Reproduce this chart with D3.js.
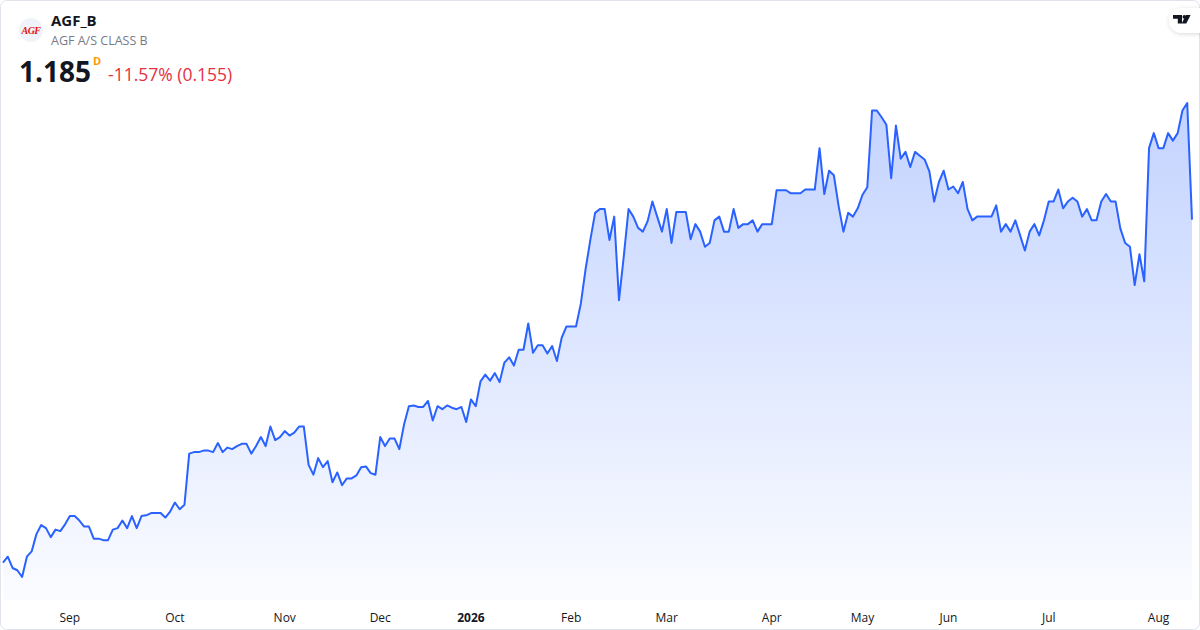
<!DOCTYPE html>
<html>
<head>
<meta charset="utf-8">
<script src="https://cdn.jsdelivr.net/npm/d3@7"></script>
<style>
  html, body { margin: 0; padding: 0; background: #fff; }
  svg { display: block; font-family: "Open Sans", "Noto Sans", sans-serif; }
</style>
</head>
<body>
<script>
// AGF_B daily closes, Aug 12 2025 .. Aug 12 2026 (Nasdaq Copenhagen trading days)
var firstDay = "2025-08-12";
var lastDay = "2026-08-12";
var holidays = ["2025-12-24", "2025-12-25", "2025-12-26", "2025-12-31", "2026-01-01",
  "2026-04-02", "2026-04-03", "2026-04-06", "2026-05-14", "2026-05-15", "2026-05-25", "2026-06-05"];

var closes = [
  0.729, 0.737, 0.722, 0.719, 0.710, 0.737, 0.744, 0.767, 0.779, 0.775,
  0.763, 0.773, 0.771, 0.780, 0.791, 0.791, 0.785, 0.777, 0.777, 0.761,
  0.761, 0.759, 0.759, 0.773, 0.775, 0.785, 0.775, 0.791, 0.775, 0.791,
  0.792, 0.795, 0.795, 0.795, 0.789, 0.797, 0.809, 0.800, 0.806, 0.874,
  0.876, 0.876, 0.878, 0.878, 0.876, 0.888, 0.876, 0.882, 0.880, 0.884,
  0.887, 0.887, 0.874, 0.884, 0.896, 0.884, 0.910, 0.892, 0.896, 0.904,
  0.898, 0.902, 0.910, 0.910, 0.859, 0.846, 0.868, 0.856, 0.864, 0.836,
  0.849, 0.832, 0.841, 0.841, 0.845, 0.856, 0.857, 0.848, 0.846, 0.896,
  0.884, 0.894, 0.894, 0.880, 0.913, 0.937, 0.938, 0.936, 0.936, 0.944,
  0.918, 0.937, 0.933, 0.938, 0.935, 0.933, 0.936, 0.916, 0.946, 0.937,
  0.970, 0.979, 0.971, 0.981, 0.969, 0.995, 1.002, 0.991, 1.012, 1.012,
  1.047, 1.008, 1.018, 1.018, 1.007, 1.017, 0.997, 1.028, 1.043, 1.043,
  1.043, 1.073, 1.119, 1.158, 1.194, 1.199, 1.199, 1.158, 1.189, 1.078,
  1.136, 1.199, 1.189, 1.174, 1.169, 1.183, 1.209, 1.189, 1.169, 1.199,
  1.154, 1.195, 1.195, 1.195, 1.159, 1.179, 1.169, 1.149, 1.154, 1.184,
  1.189, 1.169, 1.169, 1.199, 1.174, 1.179, 1.179, 1.184, 1.169, 1.179,
  1.179, 1.179, 1.224, 1.224, 1.224, 1.220, 1.220, 1.220, 1.225, 1.225,
  1.225, 1.280, 1.219, 1.250, 1.244, 1.203, 1.169, 1.194, 1.189, 1.200,
  1.218, 1.228, 1.330, 1.330, 1.321, 1.311, 1.240, 1.310, 1.266, 1.275,
  1.255, 1.275, 1.270, 1.265, 1.249, 1.209, 1.235, 1.250, 1.225, 1.229,
  1.220, 1.235, 1.199, 1.184, 1.189, 1.189, 1.189, 1.189, 1.204, 1.169,
  1.179, 1.169, 1.184, 1.164, 1.144, 1.169, 1.179, 1.164, 1.184, 1.209,
  1.209, 1.225, 1.200, 1.209, 1.214, 1.209, 1.189, 1.199, 1.184, 1.184,
  1.209, 1.219, 1.209, 1.209, 1.173, 1.154, 1.149, 1.098, 1.139, 1.103,
  1.280, 1.300, 1.280, 1.280, 1.300, 1.290, 1.300, 1.330, 1.340, 1.185
];

var symbol = "AGF_B";
var description = "AGF A/S CLASS B";
var lastPrice = "1.185";
var interval = "D";
var changeText = "-11.57% (0.155)";

var width = 1200, height = 630;

var parse = d3.utcParse("%Y-%m-%d");
var fmt = d3.utcFormat("%Y-%m-%d");
var days = d3.utcDay.range(parse(firstDay), d3.utcDay.offset(parse(lastDay), 1))
  .filter(function(d) {
    return d.getUTCDay() % 6 !== 0 && holidays.indexOf(fmt(d)) < 0;
  });

var data = closes.map(function(v, i) { return { date: days[i], value: v }; });

var x = d3.scalePoint()
  .domain(d3.range(data.length))
  .range([3, 1192]);

var y = d3.scaleLinear()
  .domain(d3.extent(closes))
  .range([577, 103]);

var svg = d3.select("body").append("svg")
  .attr("width", width)
  .attr("height", height);

var defs = svg.append("defs");
var grad = defs.append("linearGradient")
  .attr("id", "areaFill")
  .attr("gradientUnits", "userSpaceOnUse")
  .attr("x1", 0).attr("x2", 0)
  .attr("y1", y.range()[1]).attr("y2", 600);
grad.append("stop").attr("offset", 0).attr("stop-color", "#2962ff").attr("stop-opacity", 0.28);
grad.append("stop").attr("offset", 1).attr("stop-color", "#2962ff").attr("stop-opacity", 0.02);

var shadow = defs.append("filter").attr("id", "pillShadow")
  .attr("x", "-50%").attr("y", "-50%").attr("width", "200%").attr("height", "200%");
shadow.append("feDropShadow")
  .attr("dx", 0).attr("dy", 1).attr("stdDeviation", 2)
  .attr("flood-color", "#000").attr("flood-opacity", 0.15);

// card
svg.append("rect")
  .attr("x", 0.5).attr("y", 0.5)
  .attr("width", width - 1).attr("height", height - 1)
  .attr("rx", 6)
  .attr("fill", "#fff")
  .attr("stroke", "#e0e3eb");

// area + line
var area = d3.area()
  .x(function(d, i) { return x(i); })
  .y0(600)
  .y1(function(d) { return y(d.value); });

var line = d3.line()
  .x(function(d, i) { return x(i); })
  .y(function(d) { return y(d.value); });

svg.append("path")
  .datum(data)
  .attr("d", area)
  .attr("fill", "url(#areaFill)");

svg.append("path")
  .datum(data)
  .attr("d", line)
  .attr("fill", "none")
  .attr("stroke", "#2962ff")
  .attr("stroke-width", 2)
  .attr("stroke-linejoin", "round");

// month ticks at the first trading day of each month
var monthStarts = d3.range(1, data.length).filter(function(i) {
  return days[i].getUTCMonth() !== days[i - 1].getUTCMonth();
});

svg.append("g")
  .selectAll("text")
  .data(monthStarts)
  .enter()
  .append("text")
  .attr("x", function(i) { return x(i); })
  .attr("y", 622)
  .attr("text-anchor", "middle")
  .attr("font-size", 12)
  .attr("fill", "#131722")
  .attr("font-weight", function(i) { return days[i].getUTCMonth() === 0 ? 700 : 400; })
  .text(function(i) {
    var d = days[i];
    return d.getUTCMonth() === 0 ? d3.utcFormat("%Y")(d) : d3.utcFormat("%b")(d);
  });

// header
var head = svg.append("g");
head.append("circle")
  .attr("cx", 31).attr("cy", 30).attr("r", 12)
  .attr("fill", "#f0f3fa");
head.append("text")
  .attr("x", 31).attr("y", 33.5)
  .attr("text-anchor", "middle")
  .attr("font-size", 10)
  .attr("font-weight", 700)
  .attr("font-style", "italic")
  .attr("font-family", "Liberation Serif, serif")
  .attr("letter-spacing", -0.6)
  .attr("fill", "#e3120b")
  .text("AGF");

head.append("text")
  .attr("x", 51).attr("y", 26)
  .attr("font-size", 15)
  .attr("font-weight", 700)
  .attr("fill", "#131722")
  .text(symbol);

head.append("text")
  .attr("x", 51).attr("y", 45)
  .attr("font-size", 12.5)
  .attr("fill", "#787b86")
  .text(description);

head.append("text")
  .attr("x", 19).attr("y", 82)
  .attr("font-size", 28)
  .attr("font-weight", 700)
  .attr("fill", "#131722")
  .text(lastPrice);

head.append("text")
  .attr("x", 93).attr("y", 65)
  .attr("font-size", 11)
  .attr("font-weight", 700)
  .attr("fill", "#ff9800")
  .text(interval);

head.append("text")
  .attr("x", 108).attr("y", 81)
  .attr("font-size", 17.5)
  .attr("fill", "#e5303f")
  .text(changeText);

// TradingView badge
var badge = svg.append("g");
badge.append("rect")
  .attr("x", 1169).attr("y", 8)
  .attr("width", 44).attr("height", 25)
  .attr("rx", 12.5)
  .attr("fill", "#fff")
  .attr("filter", "url(#pillShadow)");
badge.append("path")
  .attr("d", "M1173,15h9v8.5h-4.2v-4.8h-4.8z M1186,15h4.6l-4.3,8.5h-4.6z")
  .attr("fill", "#131722");
badge.append("circle")
  .attr("cx", 1184.3).attr("cy", 16.9).attr("r", 1.8)
  .attr("fill", "#131722");
</script>
</body>
</html>
